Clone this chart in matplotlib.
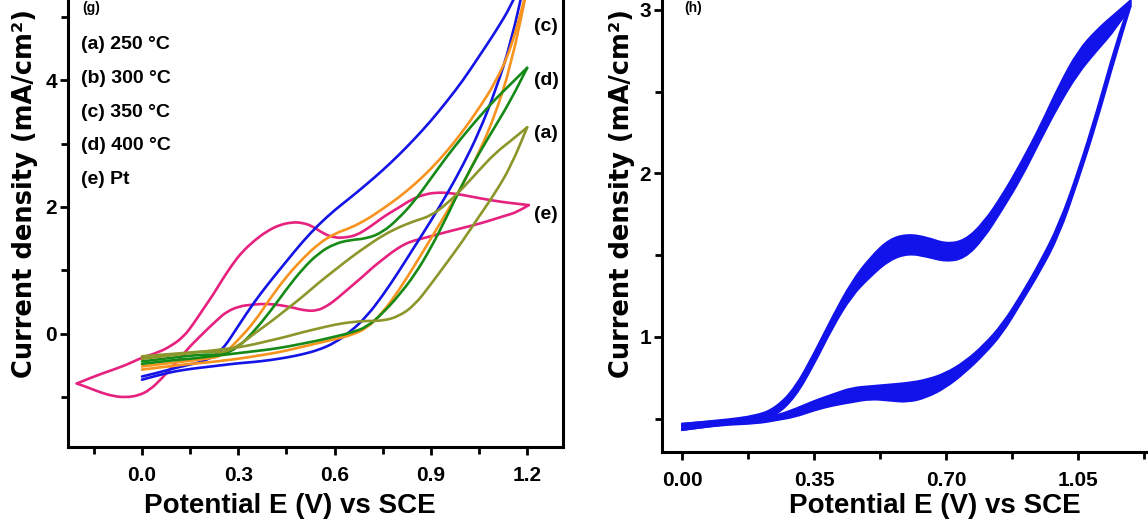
import numpy as np
import matplotlib
matplotlib.use("Agg")
import matplotlib.pyplot as plt
from matplotlib.ticker import MultipleLocator
from matplotlib.path import Path
from matplotlib.patches import PathPatch

NARROW = ['Liberation Sans Narrow', 'Liberation Sans', 'DejaVu Sans']
WIDE = ['DejaVu Sans']

# ---- panel (g): CVs of the catalysts annealed at different temperatures ----
E = [0.0, 0.05, 0.1, 0.15, 0.2, 0.25, 0.3, 0.35, 0.4, 0.45, 0.5, 0.55, 0.6,
     0.65, 0.7, 0.75, 0.8, 0.85, 0.9, 0.95, 1.0, 1.05, 1.1, 1.15, 1.2]

# forward (lower) and reverse (upper) branches, mA/cm2
a_fwd = [-0.40, -0.37, -0.34, -0.31, -0.28, -0.25, -0.22, -0.17, -0.11, -0.05, 0.02, 0.08, 0.14,
         0.18, 0.20, 0.20, 0.27, 0.45, 0.78, 1.12, 1.47, 1.85, 2.22, 2.65, 3.26]
a_rev = [-0.36, -0.34, -0.32, -0.30, -0.28, -0.31, -0.20, 0.00, 0.18, 0.38, 0.58, 0.80, 1.00,
         1.20, 1.38, 1.55, 1.68, 1.78, 1.86, 2.05, 2.30, 2.58, 2.85, 3.05, 3.26]
b_fwd = [-0.73, -0.66, -0.60, -0.56, -0.53, -0.50, -0.47, -0.45, -0.42, -0.38, -0.33, -0.26, -0.15,
         0.03, 0.27, 0.60, 0.98, 1.38, 1.78, 2.20, 2.66, 3.18, 3.82, 4.60, 5.75]
b_rev = [-0.68, -0.62, -0.55, -0.49, -0.43, -0.27, 0.12, 0.50, 0.83, 1.14, 1.45, 1.72, 1.95,
         2.15, 2.36, 2.58, 2.82, 3.08, 3.36, 3.67, 4.00, 4.38, 4.76, 5.18, 5.75]
c_fwd = [-0.57, -0.54, -0.51, -0.48, -0.46, -0.43, -0.40, -0.36, -0.32, -0.27, -0.21, -0.15, -0.09,
         -0.03, 0.08, 0.33, 0.68, 1.08, 1.50, 1.92, 2.36, 2.86, 3.45, 4.25, 5.45]
c_rev = [-0.52, -0.49, -0.46, -0.43, -0.40, -0.36, -0.10, 0.18, 0.56, 0.90, 1.18, 1.42, 1.58,
         1.67, 1.80, 1.97, 2.15, 2.36, 2.60, 2.88, 3.20, 3.56, 3.96, 4.50, 5.45]
d_fwd = [-0.48, -0.45, -0.42, -0.40, -0.37, -0.34, -0.31, -0.28, -0.25, -0.21, -0.16, -0.11, -0.05,
         0.01, 0.10, 0.32, 0.60, 0.93, 1.35, 1.85, 2.38, 2.85, 3.27, 3.70, 4.20]
d_rev = [-0.44, -0.41, -0.38, -0.35, -0.33, -0.34, -0.22, 0.04, 0.35, 0.70, 1.02, 1.27, 1.42,
         1.48, 1.50, 1.60, 1.82, 2.10, 2.45, 2.80, 3.12, 3.42, 3.70, 3.95, 4.20]

# Pt reference: anodic sweep from the cathodic vertex, then cathodic sweep back
pt_E_up = [-0.203, -0.15, -0.10, -0.05, 0.0, 0.05, 0.09, 0.13, 0.16, 0.19, 0.22, 0.25, 0.28,
           0.31, 0.35, 0.39, 0.43, 0.47, 0.50, 0.53, 0.565, 0.60, 0.64, 0.67, 0.70, 0.73,
           0.76, 0.80, 0.84, 0.88, 0.92, 0.96, 1.00, 1.06, 1.12, 1.17, 1.205]
pt_j_up = [-0.79, -0.68, -0.59, -0.50, -0.38, -0.30, -0.20, -0.05, 0.15, 0.38, 0.60, 0.85, 1.08,
           1.28, 1.47, 1.62, 1.72, 1.76, 1.75, 1.70, 1.58, 1.51, 1.52, 1.56, 1.65, 1.76,
           1.87, 1.99, 2.12, 2.20, 2.23, 2.22, 2.19, 2.13, 2.08, 2.05, 2.03]
pt_E_dn = [1.205, 1.17, 1.13, 1.08, 1.04, 0.96, 0.88, 0.84, 0.81, 0.78, 0.75, 0.72, 0.69, 0.66,
           0.63, 0.60, 0.575, 0.545, 0.51, 0.47, 0.43, 0.39, 0.35, 0.30, 0.26, 0.24, 0.21,
           0.18, 0.15, 0.12, 0.09, 0.06, 0.025, -0.01, -0.05, -0.09, -0.13, -0.17, -0.203]
pt_j_dn = [2.03, 1.92, 1.86, 1.78, 1.72, 1.62, 1.51, 1.46, 1.39, 1.29, 1.17, 1.05, 0.91, 0.78,
           0.65, 0.52, 0.43, 0.36, 0.36, 0.41, 0.45, 0.47, 0.46, 0.43, 0.33, 0.24, 0.10,
           -0.05, -0.20, -0.38, -0.55, -0.72, -0.89, -0.98, -1.01, -0.99, -0.93, -0.85, -0.79]

legend_lines = ['(a) 250 °C', '(b) 300 °C', '(c) 350 °C', '(d) 400 °C', '(e) Pt']

# ---- panel (h): repeated cycling, band spanned by the cycles ----
E_h = [0.0, 0.1, 0.2, 0.25, 0.3, 0.35, 0.4, 0.45, 0.5, 0.55, 0.6, 0.65, 0.7, 0.75,
       0.8, 0.85, 0.9, 0.95, 1.0, 1.05, 1.1, 1.15, 1.19]
up_hi = [0.47, 0.49, 0.52, 0.57, 0.69, 0.90, 1.13, 1.34, 1.49, 1.60, 1.63, 1.61, 1.57, 1.59,
         1.70, 1.87, 2.07, 2.29, 2.54, 2.75, 2.88, 2.98, 3.06]
up_lo = [0.43, 0.46, 0.49, 0.52, 0.63, 0.83, 1.06, 1.25, 1.37, 1.47, 1.51, 1.49, 1.46, 1.48,
         1.60, 1.78, 1.97, 2.20, 2.42, 2.61, 2.75, 2.88, 3.02]
dn_hi = [0.47, 0.49, 0.50, 0.52, 0.56, 0.61, 0.65, 0.69, 0.70, 0.71, 0.72, 0.74, 0.78, 0.85,
         0.95, 1.08, 1.26, 1.46, 1.69, 2.01, 2.38, 2.79, 3.06]
dn_lo = [0.43, 0.46, 0.47, 0.49, 0.51, 0.55, 0.58, 0.60, 0.62, 0.61, 0.60, 0.63, 0.69, 0.78,
         0.89, 1.02, 1.21, 1.40, 1.62, 1.95, 2.31, 2.72, 3.02]


def smooth(x, y, start=Path.MOVETO):
    """Quadratic-bezier path through the midpoints, ends kept exact."""
    p = np.column_stack([x, y])
    verts, codes = [p[0]], [start]
    for i in range(1, len(p) - 1):
        verts += [p[i], (p[i] + p[i + 1]) / 2]
        codes += [Path.CURVE3, Path.CURVE3]
    verts.append(p[-1])
    codes.append(Path.LINETO)
    return verts, codes


def curve(ax, x, y, **kw):
    v, c = smooth(x, y)
    ax.add_patch(PathPatch(Path(v, c), fill=False, capstyle='round', **kw))


def band(ax, x, hi, lo, **kw):
    v1, c1 = smooth(x, hi)
    v2, c2 = smooth(x[::-1], lo[::-1], start=Path.LINETO)
    v = v1 + v2 + [v1[0]]
    c = c1 + c2 + [Path.CLOSEPOLY]
    ax.add_patch(PathPatch(Path(v, c), **kw))


fig = plt.figure(figsize=(11.48, 5.30), dpi=100)
ax1 = fig.add_axes([0.0592, 0.1566, 0.4312, 0.8826])
ax2 = fig.add_axes([0.5767, 0.1472, 0.4338, 0.8717])

lw = 1.9
curve(ax1, pt_E_up, pt_j_up, edgecolor='#e6217f', lw=lw)
curve(ax1, pt_E_dn, pt_j_dn, edgecolor='#e6217f', lw=lw)
for fwd, rev, col in [(b_fwd, b_rev, '#1414e6'), (c_fwd, c_rev, '#f7931e'),
                      (d_fwd, d_rev, '#168a16'), (a_fwd, a_rev, '#8c962a')]:
    curve(ax1, E, fwd, edgecolor=col, lw=lw)
    curve(ax1, E, rev, edgecolor=col, lw=lw)

ax1.set_xlim(-0.2305, 1.3115)
ax1.set_ylim(-1.794, 5.6)
ax1.set_xticks([0.0, 0.3, 0.6, 0.9, 1.2])
ax1.set_xticklabels(['0.0', '0.3', '0.6', '0.9', '1.2'])
ax1.xaxis.set_minor_locator(MultipleLocator(0.15))
ax1.set_yticks([0, 2, 4])
ax1.set_yticklabels(['0', '2', '4'])
ax1.yaxis.set_minor_locator(MultipleLocator(1))

for i, s in enumerate(legend_lines):
    ax1.text(-0.19, 4.57 - i * 0.535, s, fontsize=14, family=NARROW,
             fontweight='bold', va='center', ha='left')
for s, yy in [('(c)', 4.85), ('(d)', 4.0), ('(a)', 3.16), ('(e)', 1.88)]:
    ax1.text(1.222, yy, s, fontsize=14, family=NARROW, fontweight='bold',
             va='center', ha='left')

# panel (h)
blue = '#1212ea'
Eh = np.array(E_h)
band(ax2, Eh, np.array(up_hi), np.array(up_lo), facecolor=blue, edgecolor=blue, lw=1.2)
band(ax2, Eh, np.array(dn_hi), np.array(dn_lo), facecolor=blue, edgecolor=blue, lw=1.2)

ax2.set_xlim(-0.053, 1.268)
ax2.set_ylim(0.2966, 3.122)
ax2.set_xticks([0.0, 0.35, 0.70, 1.05])
ax2.set_xticklabels(['0.00', '0.35', '0.70', '1.05'])
ax2.xaxis.set_minor_locator(MultipleLocator(0.175))
ax2.set_yticks([1, 2, 3])
ax2.set_yticklabels(['1', '2', '3'])
ax2.yaxis.set_minor_locator(MultipleLocator(0.5))

for ax in (ax1, ax2):
    for sp in ax.spines.values():
        sp.set_linewidth(2.2)
    ax.tick_params(which='major', direction='out', length=6, width=2.0, labelsize=15)
    ax.tick_params(which='minor', direction='out', length=5, width=2.0)
    ax.tick_params(axis='x', which='major', pad=8)
    ax.tick_params(axis='y', which='major', pad=2)
    for lab in ax.get_xticklabels() + ax.get_yticklabels():
        lab.set_family(NARROW)
        lab.set_fontweight('bold')

# axis titles
ylab = 'Current density (mA/cm²)'
xlab = 'Potential E (V) vs SCE'
for xc in (25, 622):
    fig.text(xc / 1148, 1 - 194 / 530, ylab, rotation=90, ha='center', va='center',
             fontsize=18.5, fontweight='bold', family=WIDE)
for xc in (290, 935):
    fig.text(xc / 1148, 1 - 506 / 530, xlab, ha='center', va='center',
             fontsize=20, family=NARROW, fontweight='bold')

# panel tags at the top edge
fig.text(82 / 1148, 1 - 1 / 530, '(g)', ha='left', va='top', fontsize=10,
         family=NARROW, fontweight='bold')
fig.text(684 / 1148, 1 - 1 / 530, '(h)', ha='left', va='top', fontsize=10,
         family=NARROW, fontweight='bold')

fig.savefig('out.png', dpi=100)
